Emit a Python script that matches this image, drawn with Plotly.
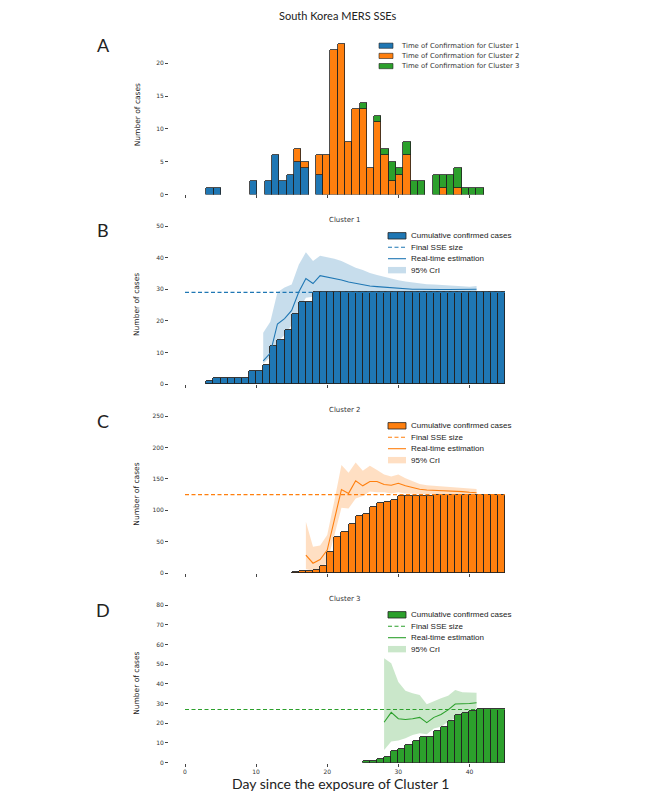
import plotly.graph_objects as go

# page body has an 8px margin: the figure is drawn 8px in from the top-left corner
OFF = 8
WIN_W, WIN_H = 666, 799
W, H = WIN_W - OFF, WIN_H - OFF

# ---------------- data ----------------
# Panel A: daily confirmations, days 3..40 (histogram bins)
days_daily = list(range(3, 41))
cluster1_daily = [1, 1, 0, 0, 0, 0, 2, 0, 2, 6, 2, 3, 5, 4, 0, 3, 0, 0, 0, 0,
                  0, 0, 0, 0, 0, 0, 0, 0, 0, 0, 0, 0, 0, 0, 0, 0, 0, 0]
cluster2_daily = [0, 0, 0, 0, 0, 0, 0, 0, 0, 0, 0, 0, 2, 1, 0, 3, 6, 22, 23, 8,
                  13, 13, 4, 11, 6, 2, 3, 6, 0, 0, 0, 0, 1, 0, 1, 0, 0, 0]
cluster3_daily = [0, 0, 0, 0, 0, 0, 0, 0, 0, 0, 0, 0, 0, 0, 0, 0, 0, 0, 0, 0,
                  0, 1, 0, 1, 1, 3, 1, 2, 2, 2, 0, 3, 2, 3, 3, 1, 1, 1]

# Panel B: cluster 1
days_cum1 = list(range(3, 45))
cum1 = [1, 2, 2, 2, 2, 2, 4, 4, 6, 12, 14, 17, 22, 26, 26, 29, 29, 29, 29, 29,
        29, 29, 29, 29, 29, 29, 29, 29, 29, 29, 29, 29, 29, 29, 29, 29, 29, 29, 29, 29,
        29, 29]
days_est1 = list(range(11, 42))
est1 = [7.3, 9.8, 19.0, 20.7, 23.3, 29.1, 33.4, 31.8, 34.3, 33.9, 33.5, 32.9, 32.3,
        31.8, 31.5, 31.0, 30.8, 30.6, 30.4, 30.2, 30.1, 30.0, 30.0, 29.9, 29.9, 29.9,
        29.9, 29.9, 29.9, 29.9, 30.0]
upper1 = [16.2, 19.7, 29.0, 30.5, 31.5, 37.7, 41.7, 38.9, 40.6, 40.2, 39.6, 38.9, 37.9,
          36.8, 36.1, 35.1, 34.5, 33.9, 33.2, 32.8, 32.4, 32.1, 31.9, 31.6, 31.5, 31.3,
          31.1, 31.0, 30.9, 30.8, 31.0]
lower1 = [6.5, 8.5, 13.4, 15.5, 18.7, 23.4, 27.3, 27.6, 29.2, 29.3, 29.3, 29.3, 29.2,
          29.2, 29.2, 29.2, 29.1, 29.1, 29.1, 29.1, 29.1, 29.1, 29.1, 29.1, 29.1, 29.1,
          29.1, 29.1, 29.1, 29.1, 29.1]

# Panel C: cluster 2
days_cum2 = list(range(15, 45))
cum2 = [2, 3, 3, 6, 12, 34, 57, 65, 78, 91, 95, 106, 112, 114, 117, 123, 123, 123,
        123, 123, 124, 124, 125, 125, 125, 125, 125, 125, 125, 125]
days_est2 = list(range(17, 42))
est2 = [29, 16, 22, 37, 85, 133, 127, 147, 139, 146, 146, 141, 140, 143, 139, 136,
        133.5, 132.4, 132, 131, 130.8, 130.5, 129.8, 128.7, 128]
upper2 = [82, 42, 44, 61, 115, 172, 160, 176, 163, 171, 164, 157, 154, 157, 151, 146,
          142, 140, 139, 138, 138, 137, 136, 135, 134]
lower2 = [7, 4, 5, 18, 60, 104, 103, 119, 123, 130, 129, 129, 127, 129, 127, 126,
          126, 126, 126, 126, 126, 126, 126, 126, 126]

# Panel D: cluster 3
days_cum3 = list(range(25, 45))
cum3 = [1, 1, 2, 3, 6, 7, 9, 11, 13, 13, 16, 18, 21, 24, 25, 26, 27, 27, 27, 27]
days_est3 = list(range(28, 42))
est3 = [20.5, 25.5, 22.3, 21.9, 22.3, 23.0, 20.3, 23.0, 24.5, 26.8, 29.8, 29.8, 30.0, 30.4]
upper3 = [53, 50.4, 41, 36.5, 35.2, 34.3, 29.6, 31.3, 32.7, 34.0, 36.9, 35.8, 35.7, 35.5]
lower3 = [6.4, 10.7, 11.2, 12.4, 14.0, 14.9, 14.4, 17.4, 18.3, 20.8, 22.5, 24.2, 25.5, 26.0]

final_size = [29, 125, 27]
final_span = [0, 45]

x_ticks = [0, 10, 20, 30, 40]

legend_A = ["Time of Confirmation for Cluster 1", "Time of Confirmation for Cluster 2",
            "Time of Confirmation for Cluster 3"]
legend_cum = ["Cumulative confirmed cases", "Final SSE size", "Real-time estimation",
              "95% CrI"]

# ---------------- styling ----------------
C_BLUE, C_ORANGE, C_GREEN = "#1f77b4", "#ff7f0e", "#2ca02c"
COLS = [C_BLUE, C_ORANGE, C_GREEN]
BAND = ["rgba(31,119,180,0.25)", "rgba(255,127,14,0.25)", "rgba(44,160,44,0.25)"]
EDGE = "#222222"
MPL = "DejaVu Sans"
DASH = "4px,2.5px"

# histogram bins of panel A: 38 bins spanning 3..42
bin_lo, bin_hi = 3, 42
bin_w = (bin_hi - bin_lo) / len(days_daily)
bin_left = [bin_lo + (d - days_daily[0]) * bin_w for d in days_daily]


def nz(vals):
    return [v if v else None for v in vals]


def px(x):
    """window pixel x -> paper fraction"""
    return (x - OFF) / W


def py(y):
    """window pixel y -> paper fraction"""
    return 1 - (y - OFF) / H


fig = go.Figure()

# Panel A
for name, vals, col in zip(legend_A, [cluster1_daily, cluster2_daily, cluster3_daily], COLS):
    fig.add_trace(go.Bar(x=bin_left, y=nz(vals), width=bin_w, offset=0, name=name,
                         marker=dict(color=col, line=dict(color=EDGE, width=0.8)),
                         xaxis="x", yaxis="y", showlegend=False))

panels = [
    (days_cum1, cum1, days_est1, est1, upper1, lower1),
    (days_cum2, cum2, days_est2, est2, upper2, lower2),
    (days_cum3, cum3, days_est3, est3, upper3, lower3),
]
for i, (dc, cv, de, ev, up, lo) in enumerate(panels):
    col, band = COLS[i], BAND[i]
    xa, ya = "x" + str(i + 2), "y" + str(i + 2)
    fig.add_trace(go.Bar(x=dc, y=cv, width=1, offset=0, name=legend_cum[0],
                         marker=dict(color=col, line=dict(color=EDGE, width=0.9)),
                         xaxis=xa, yaxis=ya, showlegend=False, zorder=1))
    fig.add_trace(go.Scatter(x=final_span, y=[final_size[i]] * 2, mode="lines",
                             name=legend_cum[1],
                             line=dict(color=col, width=1.2, dash=DASH),
                             xaxis=xa, yaxis=ya, showlegend=False, zorder=2))
    fig.add_trace(go.Scatter(x=de, y=ev, mode="lines", name=legend_cum[2],
                             line=dict(color=col, width=1.1),
                             xaxis=xa, yaxis=ya, showlegend=False, zorder=3))
    fig.add_trace(go.Scatter(x=de, y=lo, mode="lines", line=dict(width=0, color=band),
                             showlegend=False, hoverinfo="skip",
                             xaxis=xa, yaxis=ya, zorder=0))
    fig.add_trace(go.Scatter(x=de, y=up, mode="lines", fill="tonexty", fillcolor=band,
                             line=dict(width=0, color=band), name=legend_cum[3],
                             xaxis=xa, yaxis=ya, showlegend=False, zorder=0))

xdom = [px(169), px(521)]
boxes = [(36, 194.5), (226, 384), (416, 573.3), (605, 762.7)]
yranges = [[0, 24.15], [0, 50], [0, 250], [0, 80]]
ydticks = [5, 10, 50, 10]

axis_common = dict(showline=True, mirror=True, linecolor="#444", linewidth=0.8,
                   ticks="outside", ticklen=3, tickwidth=0.8, tickcolor="#444",
                   showgrid=False, zeroline=False, automargin=False,
                   tickfont=dict(family=MPL, size=6, color="#333"))

layout = dict(width=W, height=H, margin=dict(l=0, r=0, t=0, b=0, autoexpand=False),
              paper_bgcolor="white", plot_bgcolor="white", barmode="stack",
              bargap=0, showlegend=False)

for k in range(4):
    suf = "" if k == 0 else str(k + 1)
    top, bot = boxes[k]
    layout["xaxis" + suf] = dict(domain=xdom, anchor="y" + suf, range=[-2.25, 47.25],
                                 tickvals=x_ticks, showticklabels=(k == 3), **axis_common)
    layout["yaxis" + suf] = dict(domain=[py(bot), py(top)], anchor="x" + suf,
                                 range=yranges[k], dtick=ydticks[k], **axis_common)

fig.update_layout(**layout)

ann = []
shapes = []


def text(t, x, y, size, family, color="#222", xanchor="center", angle=0):
    ann.append(dict(text=t, x=px(x), y=py(y), xref="paper", yref="paper",
                    showarrow=False, font=dict(family=family, size=size, color=color),
                    xanchor=xanchor, yanchor="middle", textangle=angle))


text("South Korea MERS SSEs", 338, 15, 11, "Lato")
for letter, yy in zip("ABCD", [45, 230, 421, 610]):
    text(letter, 103, yy, 18, "Lato")
for k in range(3):
    text("Cluster %d" % (k + 1), 345, boxes[k + 1][0] - 6, 7, MPL, "#333")
for top, bot in boxes:
    text("Number of cases", 137, (top + bot) / 2, 7.5, MPL, "#222", angle=-90)
text("Day since the exposure of Cluster 1", 340, 783, 14, "Lato")

# legend, panel A
for j, (lab, col) in enumerate(zip(legend_A, COLS)):
    yy = boxes[0][0] + 9.7 + j * 10.2
    shapes.append(dict(type="rect", xref="paper", yref="paper", x0=px(379), x1=px(393),
                       y0=py(yy + 2.6), y1=py(yy - 2.6), fillcolor=col,
                       line=dict(color=EDGE, width=0.6)))
    text(lab, 399, yy, 6.9, MPL, "#333", xanchor="left")

# legends, panels B-D
for k in range(3):
    col, band = COLS[k], BAND[k]
    top = boxes[k + 1][0]
    rows = [top + 9.8 + j * 11.45 for j in range(4)]
    x0, x1 = px(388), px(406)
    shapes.append(dict(type="rect", xref="paper", yref="paper", x0=x0, x1=x1,
                       y0=py(rows[0] + 3.2), y1=py(rows[0] - 3.2), fillcolor=col,
                       line=dict(color=EDGE, width=0.8)))
    shapes.append(dict(type="line", xref="paper", yref="paper", x0=x0, x1=x1,
                       y0=py(rows[1]), y1=py(rows[1]), line=dict(color=col, width=1.2, dash=DASH)))
    shapes.append(dict(type="line", xref="paper", yref="paper", x0=x0, x1=x1,
                       y0=py(rows[2]), y1=py(rows[2]), line=dict(color=col, width=1.1)))
    shapes.append(dict(type="rect", xref="paper", yref="paper", x0=x0, x1=x1,
                       y0=py(rows[3] + 3.2), y1=py(rows[3] - 3.2), fillcolor=band,
                       line=dict(width=0)))
    for j, lab in enumerate(legend_cum):
        text(lab, 408.5, rows[j], 8, "Liberation Sans", "#222", xanchor="left")

fig.update_layout(annotations=ann, shapes=shapes)

fig.write_html("out.html")
